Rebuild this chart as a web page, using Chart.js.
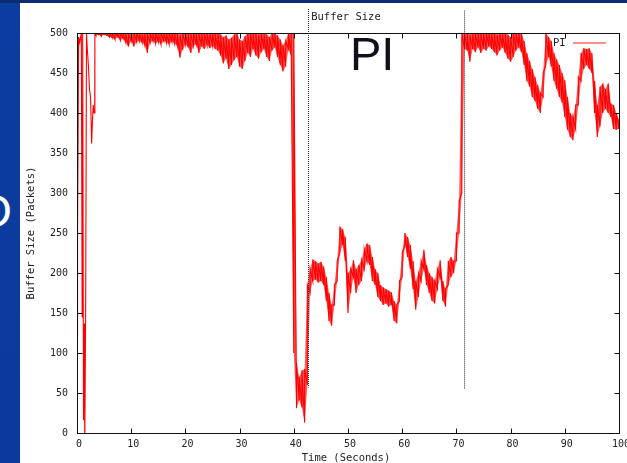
<!DOCTYPE html>
<html>
<head>
<meta charset="utf-8">
<script src="https://cdn.jsdelivr.net/npm/chart.js@4/dist/chart.umd.min.js"></script>
<style>
  html, body { margin: 0; padding: 0; width: 627px; height: 463px; overflow: hidden; }
  body {
    position: relative;
    background: linear-gradient(172deg, #0b3c9f 0%, #0a3a9c 86%, #1a4caa 91%, #1d4fad 100%);
  }
  #topbar { position: absolute; left: 0; top: 0; width: 627px; height: 3px; background: #0a2a72; }
  #slideLetter {
    position: absolute; left: -22px; top: 187px;
    font: 47px "Liberation Sans", Arial, sans-serif; line-height: 47px; color: #fff;
  }
  #panel { position: absolute; left: 20px; top: 3px; width: 607px; height: 460px; background: #fff; }
  canvas { display: block; }
</style>
</head>
<body>
<div id="topbar"></div>
<div id="slideLetter">D</div>
<div id="panel"><canvas id="chart" width="607" height="460"></canvas></div>
<script>
// Queue length trace for the PI controller (packets vs seconds).

// Start-up transient, sampled point by point.
const startTimes  = [0, 0.05, 0.1, 0.15, 0.3, 0.5, 0.8, 0.95, 1.05, 1.2, 1.3, 1.45, 1.6, 1.75, 1.9, 2.1, 2.3, 2.5, 2.7, 2.85, 3.0, 3.15, 3.3];
const startValues = [500, 120, 500, 245, 495, 488, 500, 145, 500, 16, 137, 0, 157, 500, 480, 460, 430, 420, 362, 390, 410, 400, 500];

// After start-up: lower / upper extent of the noisy trace every 0.5 s, from 3.5 s to 100 s.
const envStart = 3.5;
const envStep = 0.5;
const envLow = [
  497,498,496,498,497,495,494,492,495,491,
  493,488,483,490,483,489,490,488,485,475,
  488,490,487,489,486,490,488,486,489,487,
  484,469,479,486,482,475,484,486,475,483,
  480,485,481,484,480,478,472,462,468,455,
  460,466,470,458,455,465,475,470,480,472,
  468,476,480,470,465,478,482,470,460,452,
  458,480,472,100,31,41,32,13,60,175,
  190,192,188,190,185,165,140,134,160,190,
  225,235,215,150,175,195,175,185,190,205,
  215,210,190,185,170,165,160,162,158,160,
  140,137,165,195,235,220,205,180,154,170,
  190,205,185,175,165,162,180,195,165,158,
  185,195,200,215,250,300,480,478,464,480,
  476,482,475,480,478,483,480,476,472,478,
  482,475,468,464,470,478,482,476,460,440,
  433,420,415,405,400,420,460,470,458,440,
  430,420,413,395,379,370,366,380,410,440,
  455,460,455,450,400,370,383,400,405,400,
  395,380,379,380
];
const envHigh = [
  500,500,500,500,500,500,500,500,500,500,
  500,500,499,500,500,500,500,500,500,498,
  500,500,500,500,500,500,500,500,500,500,
  500,498,500,500,500,499,500,500,500,500,
  500,500,500,500,500,500,498,495,497,492,
  494,498,500,492,490,496,500,500,500,500,
  498,500,500,498,495,500,500,497,492,485,
  490,500,500,500,87,70,78,80,185,205,
  217,215,212,214,208,195,175,160,185,215,
  258,255,245,200,205,216,205,210,216,230,
  237,235,220,205,200,185,182,180,178,176,
  165,160,190,225,250,245,235,215,190,200,
  215,229,210,200,195,190,205,216,190,180,
  215,220,215,250,290,500,500,500,498,500,
  500,500,500,500,500,500,500,500,498,500,
  500,500,498,495,500,500,500,500,490,475,
  465,455,445,435,425,450,500,495,490,475,
  467,460,450,441,420,400,395,410,445,475,
  481,480,481,475,440,410,433,437,430,437,
  412,410,400,392
];

// Axis ticks
const xTicks = [0, 10, 20, 30, 40, 50, 60, 70, 80, 90, 100];
const yTicks = [0, 50, 100, 150, 200, 250, 300, 350, 400, 450, 500];

// Dotted vertical markers (time, lower end, upper end in packets)
const markerTimes = [42.65, 71.45];
const markerLow   = [57, 55];
const markerHigh  = [530, 528];
const markerText  = 'Buffer Size';

const seriesName = 'PI';
const xTitle = 'Time (Seconds)';
const yTitle = 'Buffer Size (Packets)';

// Trace path: start-up points, then a sawtooth running low -> high at every
// sample so the rapid oscillation reads as a dense band.
const startPts = startTimes.map((t, i) => ({ x: t, y: startValues[i] }));
const trace = startPts.slice();
const lowEdge = startPts.slice();
const highEdge = startPts.slice();
envLow.forEach((lo, i) => {
  const t = envStart + i * envStep;
  const hi = envHigh[i];
  trace.push({ x: t, y: lo }, { x: t, y: hi });
  lowEdge.push({ x: t, y: lo });
  highEdge.push({ x: t, y: hi });
});

const MONO = '"DejaVu Sans Mono", "Liberation Mono", monospace';
const INK = '#222';

const decor = {
  id: 'decor',
  afterDatasetsDraw(chart) {
    const { ctx, chartArea: a, scales: { x, y } } = chart;
    ctx.save();
    const L = Math.round(a.left) + 0.5, R = Math.round(a.right) + 0.5;
    const T = Math.round(a.top) + 0.5, B = Math.round(a.bottom) + 0.5;

    // frame and inward ticks on all sides
    ctx.strokeStyle = '#111';
    ctx.lineWidth = 1;
    ctx.strokeRect(L, T, R - L, B - T);
    ctx.beginPath();
    xTicks.forEach(v => {
      const px = Math.round(x.getPixelForValue(v)) + 0.5;
      ctx.moveTo(px, B); ctx.lineTo(px, B - 5);
      ctx.moveTo(px, T); ctx.lineTo(px, T + 5);
    });
    yTicks.forEach(v => {
      const py = Math.round(y.getPixelForValue(v)) + 0.5;
      ctx.moveTo(L, py); ctx.lineTo(L + 5, py);
      ctx.moveTo(R, py); ctx.lineTo(R - 5, py);
    });
    ctx.stroke();

    // dotted markers
    ctx.setLineDash([1, 1]);
    ctx.strokeStyle = '#333';
    markerTimes.forEach((t, i) => {
      const px = Math.round(x.getPixelForValue(t)) + 0.5;
      ctx.beginPath();
      ctx.moveTo(px, y.getPixelForValue(markerHigh[i]));
      ctx.lineTo(px, y.getPixelForValue(markerLow[i]));
      ctx.stroke();
    });
    ctx.setLineDash([]);

    // marker caption
    ctx.fillStyle = INK;
    ctx.font = '10.5px ' + MONO;
    ctx.textBaseline = 'middle';
    ctx.textAlign = 'left';
    ctx.fillText(markerText, x.getPixelForValue(markerTimes[0]) + 3, 14);

    // large series caption
    ctx.fillStyle = '#10101c';
    ctx.font = '47px "Liberation Sans", Arial, sans-serif';
    ctx.textBaseline = 'alphabetic';
    ctx.fillText(seriesName, 330, 67);

    // key
    ctx.fillStyle = INK;
    ctx.font = '10.5px ' + MONO;
    ctx.textBaseline = 'middle';
    ctx.fillText(seriesName, 533, 40);
    ctx.strokeStyle = '#ff6a6a';
    ctx.lineWidth = 1.5;
    ctx.beginPath();
    ctx.moveTo(553, 40); ctx.lineTo(586, 40);
    ctx.stroke();

    // axis titles
    ctx.fillStyle = INK;
    ctx.font = '10.5px ' + MONO;
    ctx.textAlign = 'center';
    ctx.fillText(xTitle, (a.left + a.right) / 2 - 2, 455);
    ctx.translate(11, (a.top + a.bottom) / 2);
    ctx.rotate(-Math.PI / 2);
    ctx.fillText(yTitle, 0, 0);
    ctx.restore();
  }
};

new Chart(document.getElementById('chart'), {
  type: 'line',
  data: {
    datasets: [
      { data: lowEdge, borderWidth: 0, borderColor: 'rgba(0,0,0,0)', pointRadius: 0, tension: 0, fill: false },
      { data: highEdge, borderWidth: 0, borderColor: 'rgba(0,0,0,0)', pointRadius: 0, tension: 0,
        fill: '-1', backgroundColor: 'rgba(255,0,0,0.65)' },
      { label: seriesName, data: trace, borderColor: '#ff0000', borderWidth: 1.1, pointRadius: 0, tension: 0, fill: false }
    ]
  },
  options: {
    responsive: false,
    animation: false,
    layout: { padding: { top: 30, right: 8, left: 0, bottom: 0 } },
    plugins: { legend: { display: false }, tooltip: { enabled: false } },
    scales: {
      x: {
        type: 'linear', min: 0, max: 100,
        afterBuildTicks: s => { s.ticks = xTicks.map(v => ({ value: v })); },
        ticks: { font: { family: MONO, size: 10 }, color: INK, padding: 5, labelOffset: 2, maxRotation: 0, autoSkip: false },
        grid: { display: false, drawTicks: false },
        border: { display: false },
        afterFit: s => { s.height = 30; s.paddingLeft = 0; s.paddingRight = 0; }
      },
      y: {
        type: 'linear', min: 0, max: 500,
        afterBuildTicks: s => { s.ticks = yTicks.map(v => ({ value: v })); },
        ticks: { font: { family: MONO, size: 10 }, color: INK, padding: 9, autoSkip: false },
        grid: { display: false, drawTicks: false },
        border: { display: false },
        afterFit: s => { s.width = 57; s.paddingTop = 0; s.paddingBottom = 0; }
      }
    }
  },
  plugins: [decor]
});
</script>
</body>
</html>
